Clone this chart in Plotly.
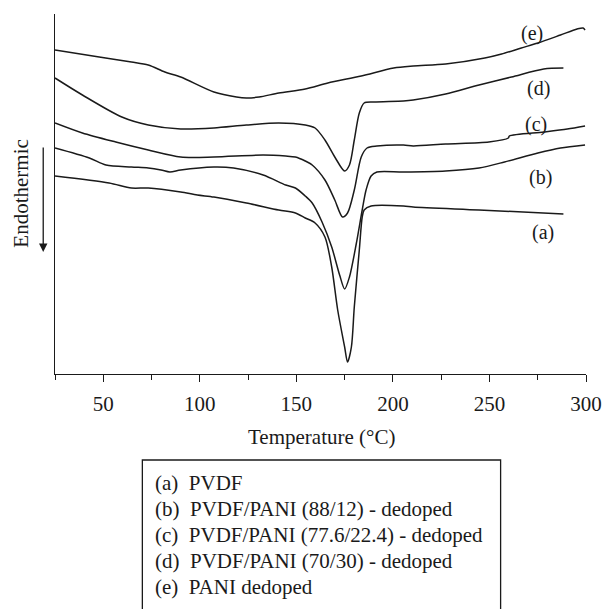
import plotly.graph_objects as go

# ---- data (temperature in °C, heat-flow signal in arbitrary units, endo down) ----
T_a = [25, 53.0, 64.6, 73.3, 90.1, 98.7, 107.3, 124.1, 140.9, 149.5, 154.6, 159.7, 164.8, 168.3,
       171.4, 175.0, 176.5, 178.5, 180.0, 182.6, 184.1, 185.1, 188.7, 205.5, 210.5, 244.6, 288.3]
S_a = [198, 191, 186, 186, 182, 179, 177, 171, 164, 161, 156, 151, 137, 107,
       64, 27, 12, 27, 67, 124, 157, 164, 168, 168, 167, 164, 160]

T_b = [25, 42.8, 51.4, 64.6, 73.3, 79.9, 84.5, 90.1, 107.3, 117.5, 132.8, 144.5, 149.5, 154.6,
       158.2, 163.3, 168.3, 172.4, 175.0, 177.5, 181.1, 184.1, 186.1, 188.7, 191.7, 205.5, 227.3,
       244.6, 257.8, 275.1, 286.8, 299.5]
S_b = [226, 216, 209, 207, 206, 204, 202, 204, 207, 206, 199, 189, 186, 178,
       171, 152, 127, 99, 85, 97, 131, 164, 184, 198, 202, 202, 203,
       206, 212, 221, 226, 229]

T_c = [25, 39.2, 56.5, 73.3, 90.1, 107.3, 132.8, 144.5, 149.5, 154.6, 158.2, 164.8, 169.9, 173.9,
       176.5, 180.0, 183.6, 186.6, 191.7, 205.5, 210.5, 227.3, 249.7, 259.8, 260.3, 278.1, 290.3, 299.5]
S_c = [251, 241, 232, 224, 217, 217, 219, 218, 217, 213, 209, 194, 174, 157,
       161, 184, 217, 226, 228, 229, 228, 230, 232, 236, 238, 242, 245, 248]

T_d = [25, 39.2, 59.6, 73.3, 90.1, 107.3, 124.1, 140.9, 154.6, 159.7, 164.8, 169.9, 175.0, 177.5,
       180.0, 182.6, 185.1, 190.2, 205.5, 210.5, 227.3, 244.6, 261.4, 278.1, 288.3]
S_d = [296, 279, 257, 249, 245, 246, 249, 251, 249, 246, 234, 217, 203, 209,
       234, 261, 271, 272, 273, 274, 280, 289, 297, 305, 306]

T_e = [25, 47.9, 64.6, 73.3, 81.9, 90.1, 107.3, 119.0, 124.1, 130.7, 140.9, 154.6, 166.3, 183.6,
       200.4, 210.5, 227.3, 247.6, 256.3, 266.5, 275.1, 286.8, 295.4, 298.5, 299.5]
S_e = [324, 317, 312, 309, 302, 297, 282, 277, 276, 277, 281, 285, 291, 298,
       306, 308, 310, 316, 320, 326, 331, 339, 345, 346, 344]

curve_tags = ["(a)", "(b)", "(c)", "(d)", "(e)"]
tag_T = [277.6, 276.6, 274.0, 275.6, 272.0]
tag_S = [142, 197, 250, 286, 341]

legend_lines = ["(a)  PVDF",
                "(b)  PVDF/PANI (88/12) - dedoped",
                "(c)  PVDF/PANI (77.6/22.4) - dedoped",
                "(d)  PVDF/PANI (70/30) - dedoped",
                "(e)  PANI dedoped"]

x_ticks = [50, 100, 150, 200, 250, 300]
x_minor = [25, 75, 125, 175, 225, 275]

# ---- figure ----
W, H = 614, 609
ML, MR, MT, MB = 55, 18, 14, 235
PW, PH = W - ML - MR, H - MT - MB
FONT = "Liberation Serif"
INK = "#1a1a1a"


def px(x):
    return (x - ML) / PW


def py(y):
    return (H - MB - y) / PH


fig = go.Figure()
for T, S in [(T_a, S_a), (T_b, S_b), (T_c, S_c), (T_d, S_d), (T_e, S_e)]:
    fig.add_trace(go.Scatter(x=T, y=S, mode="lines",
                             line=dict(color=INK, width=1.5, shape="spline", smoothing=0.8),
                             showlegend=False, hoverinfo="skip"))

for tag, tx, ts in zip(curve_tags, tag_T, tag_S):
    fig.add_annotation(x=tx, y=ts, text=tag, showarrow=False, xanchor="center", yanchor="middle",
                       font=dict(family=FONT, size=20, color=INK))

# y label and arrow
fig.add_annotation(xref="paper", yref="paper", x=px(20), y=py(194), text="Endothermic",
                   textangle=-90, showarrow=False, xanchor="center", yanchor="middle",
                   font=dict(family=FONT, size=21, color=INK))
fig.add_annotation(xref="paper", yref="paper", x=px(43), y=py(252), ax=0, ay=-106,
                   axref="pixel", ayref="pixel", text="", showarrow=True,
                   arrowhead=2, arrowsize=1.3, arrowwidth=1.3, arrowcolor=INK)

# x title
fig.add_annotation(xref="paper", yref="paper", x=px(327), y=py(437), text="Temperature (°C)",
                   showarrow=False, xanchor="center", yanchor="middle",
                   font=dict(family=FONT, size=21, color=INK))

# legend box
fig.add_shape(type="rect", xref="paper", yref="paper",
              x0=px(144), x1=px(509), y0=py(640), y1=py(460),
              line=dict(color=INK, width=1.3), fillcolor="rgba(0,0,0,0)")
for i, t in enumerate(legend_lines):
    fig.add_annotation(xref="paper", yref="paper", x=px(155), y=py(483 + 26 * i), text=t,
                       xanchor="left", yanchor="middle", showarrow=False,
                       font=dict(family=FONT, size=21, color=INK))

fig.update_layout(
    width=W, height=H, margin=dict(l=ML, r=MR, t=MT, b=MB),
    plot_bgcolor="white", paper_bgcolor="white", showlegend=False,
    xaxis=dict(range=[25, 300], tickvals=x_ticks, ticks="outside", ticklen=7, tickwidth=1.2,
               tickcolor=INK, showline=True, linecolor=INK, linewidth=1.3, showgrid=False,
               zeroline=False, tickfont=dict(family=FONT, size=21, color=INK),
               ticklabelstandoff=4,
               minor=dict(tickvals=x_minor, ticks="outside", ticklen=5, tickwidth=1.2, tickcolor=INK,
                          showgrid=False)),
    yaxis=dict(range=[0, 360], showline=True, linecolor=INK, linewidth=1.3, showticklabels=False,
               ticks="", showgrid=False, zeroline=False),
)

fig.write_html("out.html")
